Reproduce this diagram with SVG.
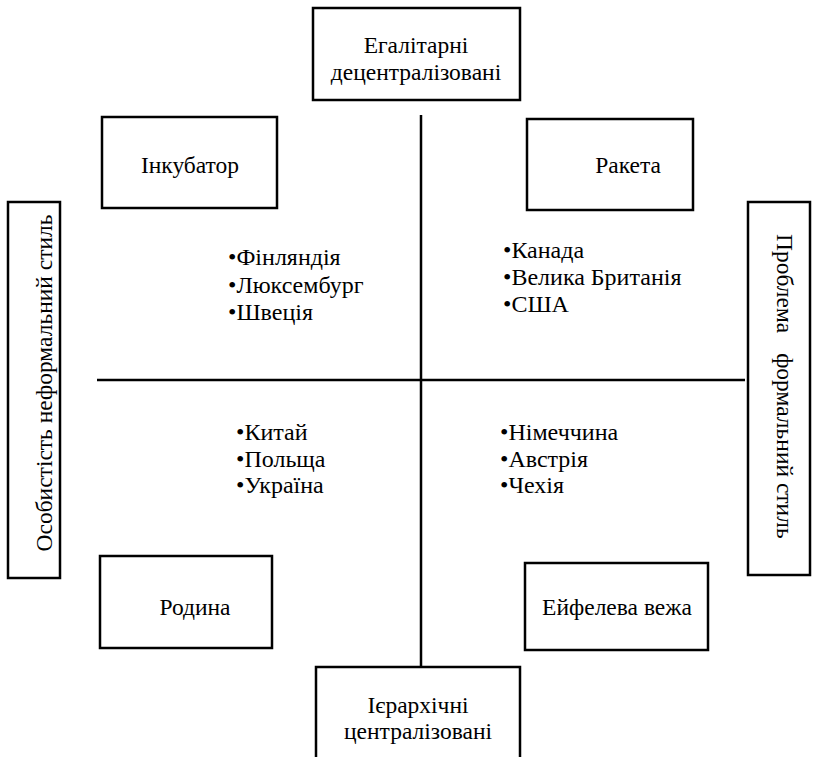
<svg xmlns="http://www.w3.org/2000/svg" width="815" height="757" viewBox="0 0 815 757">
<style>
.box{fill:#fff;stroke:#000;stroke-width:2.5}
.c{text-anchor:middle}
.ln{stroke:#000;stroke-width:2.5}
.li{font-size:24px}
</style>
<rect width="815" height="757" fill="#fff"/>
<g id="axes">
<line class="ln" x1="421" y1="115" x2="421" y2="742"/>
<line class="ln" x1="97" y1="380" x2="745" y2="380"/>
</g>
<g font-family="Liberation Serif, Times New Roman, serif" font-size="23.5" fill="#000">
<g id="top">
<rect class="box" x="313" y="8" width="207" height="92"/>
<text class="c" x="416" y="53">Егалітарні</text>
<text class="c" x="416" y="80">децентралізовані</text>
</g>
<g id="incubator">
<rect class="box" x="102" y="117" width="175" height="91"/>
<text class="c" x="190" y="173">Інкубатор</text>
</g>
<g id="rocket">
<rect class="box" x="527" y="119" width="166" height="91"/>
<text class="c" x="628" y="173">Ракета</text>
</g>
<g id="left">
<rect class="box" x="8" y="202" width="52" height="376"/>
<text class="c" transform="translate(52,383) rotate(-90)">Особистість неформальний стиль</text>
</g>
<g id="right">
<rect class="box" x="748" y="202" width="62" height="373"/>
<text transform="translate(777,234) rotate(90)">Проблема<tspan dx="20">формальний стиль</tspan></text>
</g>
<g id="family">
<rect class="box" x="100" y="556" width="172" height="92"/>
<text class="c" x="195" y="615">Родина</text>
</g>
<g id="eiffel">
<rect class="box" x="525" y="563" width="183" height="87"/>
<text class="c" x="617" y="615">Ейфелева вежа</text>
</g>
<g id="bottom">
<rect class="box" x="316" y="667" width="204" height="100"/>
<text class="c" x="418" y="713">Ієрархічні</text>
<text class="c" x="418" y="739">централізовані</text>
</g>
<g id="list-tl" class="li">
<text x="228" y="265">•Фінляндія</text>
<text x="228" y="293">•Люксембург</text>
<text x="228" y="320">•Швеція</text>
</g>
<g id="list-tr" class="li">
<text x="503" y="258">•Канада</text>
<text x="503" y="285">•Велика Британія</text>
<text x="503" y="312">•США</text>
</g>
<g id="list-bl" class="li">
<text x="236" y="440">•Китай</text>
<text x="236" y="467">•Польща</text>
<text x="236" y="493">•Україна</text>
</g>
<g id="list-br" class="li">
<text x="500" y="440">•Німеччина</text>
<text x="500" y="467">•Австрія</text>
<text x="500" y="493">•Чехія</text>
</g>
</g>
</svg>
